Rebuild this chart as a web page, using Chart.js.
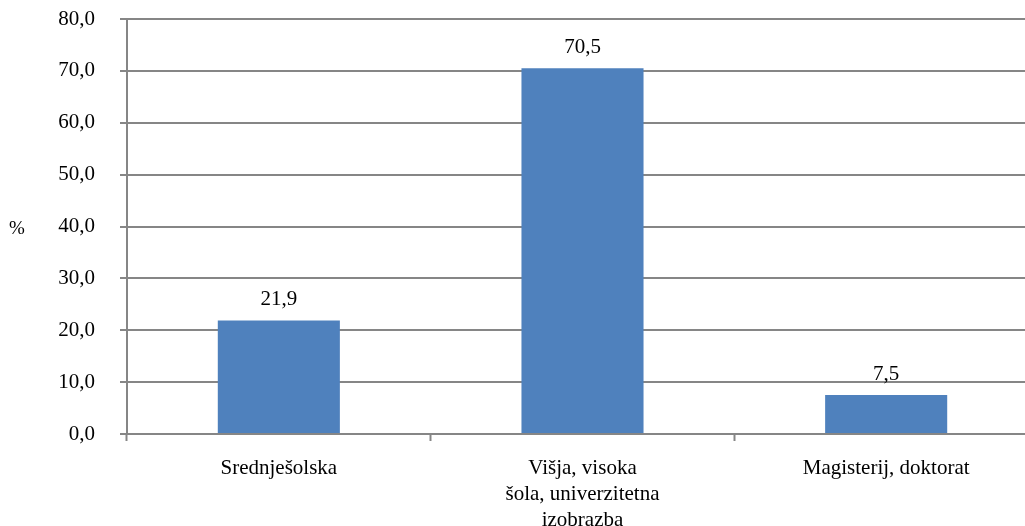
<!DOCTYPE html>
<html>
<head>
<meta charset="utf-8">
<script src="https://cdn.jsdelivr.net/npm/chart.js@4/dist/chart.umd.min.js"></script>
<style>
    html, body { margin: 0; padding: 0; background: #fff; overflow: hidden; }
    #wrap { width: 1025px; height: 526px; overflow: hidden; }
</style>
</head>
<body>
<div id="wrap"><canvas id="chart" width="1040" height="526"></canvas></div>
<script>
// Datos del gráfico
const categories = [
    'Srednješolska',
    ['Višja, visoka', 'šola, univerzitetna', 'izobrazba'],
    'Magisterij, doktorat'
];
const values = [21.9, 70.5, 7.5];
const yMin = 0;
const yMax = 80;
const yStep = 10;
const unitLabel = '%';

const gridColor = '#868686';
const fontFamily = '"Liberation Serif", "Times New Roman", serif';

// Formato con coma decimal
function fmt(v) {
    return v.toFixed(1).replace('.', ',');
}

// Etiquetas de valor sobre las barras y el símbolo "%"
const labelsPlugin = {
    id: 'labels',
    afterDatasetsDraw(chart) {
        const ctx = chart.ctx;
        ctx.save();
        ctx.fillStyle = '#000';
        ctx.font = '21px ' + fontFamily;
        ctx.textAlign = 'center';
        ctx.textBaseline = 'alphabetic';
        chart.getDatasetMeta(0).data.forEach((bar, i) => {
            ctx.fillText(fmt(values[i]), bar.x, bar.y - 15);
        });
        const area = chart.chartArea;
        ctx.font = '19px ' + fontFamily;
        ctx.textBaseline = 'middle';
        ctx.fillText(unitLabel, 17, (area.top + area.bottom) / 2 + 3);
        ctx.restore();
    }
};

new Chart(document.getElementById('chart'), {
    type: 'bar',
    data: {
        labels: categories,
        datasets: [{
            data: values,
            backgroundColor: '#4f81bd',
            borderWidth: 0,
            barPercentage: 0.402,
            categoryPercentage: 1
        }]
    },
    options: {
        responsive: false,
        animation: false,
        layout: { padding: { top: 19, right: 2, left: 0, bottom: 0 } },
        plugins: {
            legend: { display: false },
            tooltip: { enabled: false }
        },
        scales: {
            x: {
                afterFit(scale) { scale.height = 92; },
                grid: {
                    offset: true,
                    drawOnChartArea: false,
                    drawTicks: true,
                    tickLength: 7,
                    tickColor: gridColor,
                    tickWidth: 2
                },
                border: { color: gridColor, width: 2 },
                ticks: {
                    color: '#000',
                    padding: 14,
                    maxRotation: 0,
                    autoSkip: false,
                    font: { family: fontFamily, size: 21, lineHeight: 1.25 }
                }
            },
            y: {
                min: yMin,
                max: yMax,
                afterFit(scale) {
                    scale.width = 127;
                    // evitar el margen extra que añade el padding de las etiquetas
                    scale.paddingTop = 0;
                    scale.paddingBottom = 0;
                },
                grid: {
                    color: gridColor,
                    lineWidth: 2,
                    drawTicks: true,
                    tickLength: 7,
                    tickColor: gridColor
                },
                border: { color: gridColor, width: 2 },
                ticks: {
                    stepSize: yStep,
                    color: '#000',
                    padding: 25,
                    font: { family: fontFamily, size: 21 },
                    callback: (v) => fmt(v)
                }
            }
        }
    },
    plugins: [labelsPlugin]
});
</script>
</body>
</html>
